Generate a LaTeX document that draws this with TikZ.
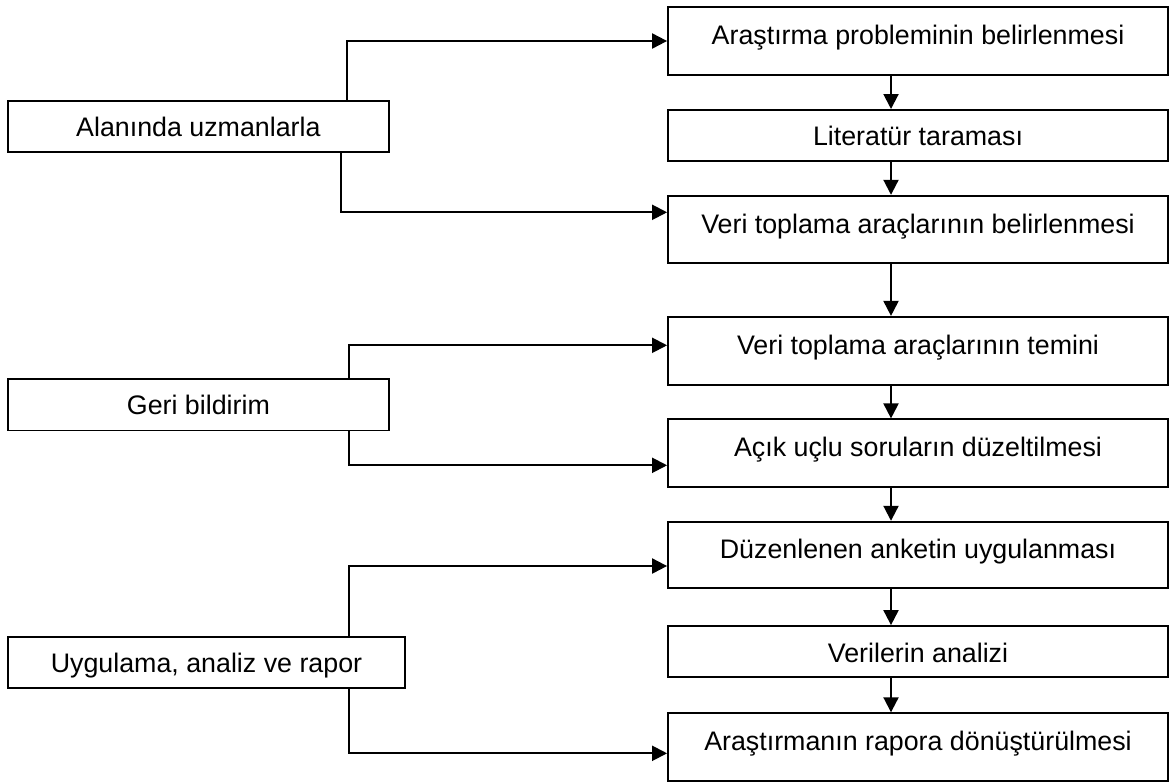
\documentclass[tikz,border=0pt]{standalone}
\usepackage{fontspec}
\setmainfont{Liberation Sans}
\usetikzlibrary{calc, positioning}
\usetikzlibrary{arrows.meta}
\def\mw{250pt}
\def\mh{34pt}
\def\sh{25.6pt}
\tikzset{
    border/.style = { 
        draw, rectangle, minimum width=\mw, minimum height=\mh, line width=0.9pt,
        inner sep=0pt, text height=9.6pt, text depth=6pt, font=\fontsize{13.4}{16}\selectfont
    },
    shortborder/.style = {border, minimum height=\sh, text height=10.6pt, text depth=0pt},
    sideborder/.style = {shortborder, minimum width=190.7pt, text height=10pt}
    }

\begin{document}
\begin{tikzpicture}[x=0.5pt, y=-0.5pt]
        \useasboundingbox (0,0) rectangle (1170,782);
        % Main steps
        \node[border] (b1) at (918,41) {Araştırma probleminin belirlenmesi};
        \node[shortborder, minimum height=25.4pt] (b2) at (918,135.3) {Literatür taraması};
        \node[border, minimum height=33.8pt] (b3) at (918,229.5) {Veri toplama araçlarının belirlenmesi};
        \node[border] (b4) at (918,350.8) {Veri toplama araçlarının temini};
        \node[border] (b5) at (918,453.3) {Açık uçlu soruların düzeltilmesi};
        \node[border, minimum height=33.3pt] (b6) at (918,555) {Düzenlenen anketin uygulanması};
        \node[shortborder] (b7) at (918,651.6) {Verilerin analizi};
        \node[border, minimum height=33.8pt] (b8) at (918,747) {Araştırmanın rapora dönüştürülmesi};
        % Phases
        \node[sideborder] (s1) at (198.4,126.5) {Alanında uzmanlarla};
        \node[sideborder] (s2) at (198.4,404.9) {Geri bildirim};
        \node[sideborder, minimum width=198.8pt] (s3) at (206.5,662.5) {Uygulama, analiz ve rapor};
        \coordinate (ax) at (891,0);
        \begin{scope}[line width=1pt, >={Triangle[width=7.5pt,length=7.5pt]}]
            \foreach \a/\b in {b1/b2, b2/b3, b3/b4, b4/b5, b5/b6, b6/b7, b7/b8}
                \draw[->] (\a.south -| ax) -- (\b.north -| ax);
            \draw[->] ($(s1.north)+(148.3,0)$) |- (b1.west);
            \draw[->] ($(s1.south)+(142.3,0)$) |- ($(b3.west)+(0,-17.2)$);
            \draw[->] ($(s2.north)+(150.3,0)$) |- ($(b4.west)+(0,-5.5)$);
            \draw[->] ($(s2.south)+(150.3,0)$) |- ($(b5.west)+(0,12)$);
            \draw[->] ($(s3.north)+(142.2,0)$) |- ($(b6.west)+(0,11)$);
            \draw[->] ($(s3.south)+(142.2,0)$) |- ($(b8.west)+(0,6.3)$);
        \end{scope}
    \end{tikzpicture}
\end{document}
